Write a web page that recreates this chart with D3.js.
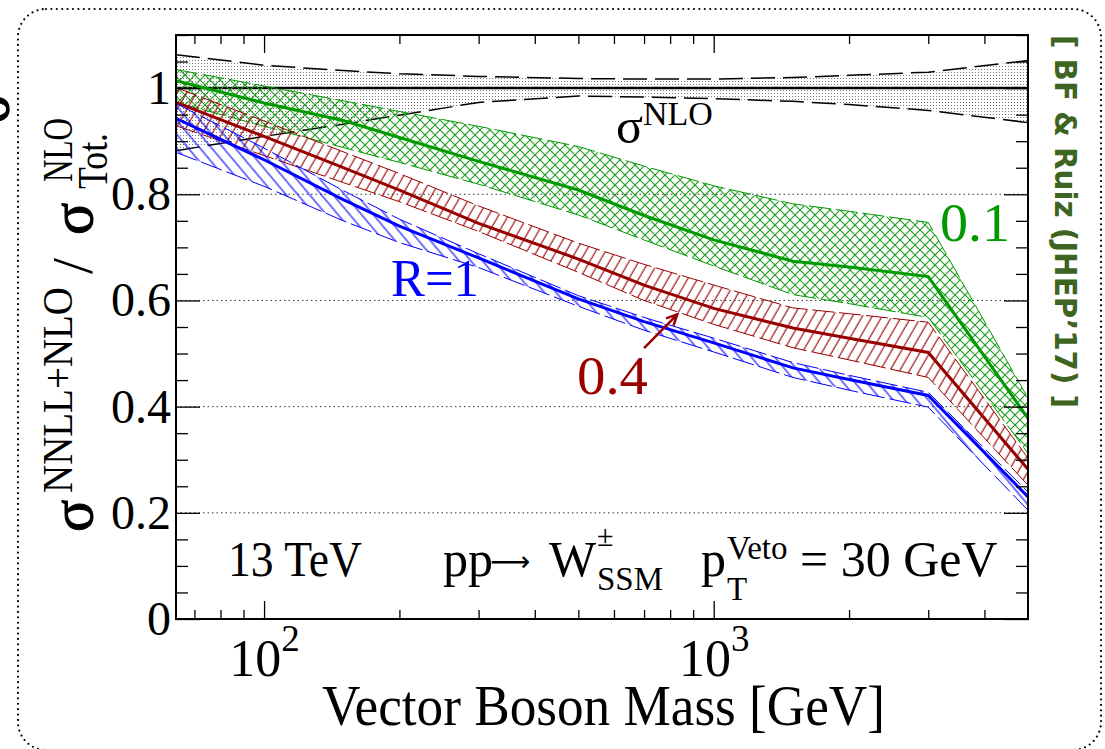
<!DOCTYPE html>
<html>
<head>
<meta charset="utf-8">
<script src="https://cdn.jsdelivr.net/npm/d3@7"></script>
<style>
  body { margin: 0; background: #fff; }
  svg { display: block; }
  text { font-family: "Liberation Serif", "Times New Roman", serif; }
</style>
</head>
<body>
<div id="chart"></div>
<script>
const masses = [63.7, 100, 150, 200, 300, 500, 700, 1000, 1500, 2000, 3000, 5000]

// sigma^NLO band (ratio to itself)
const nloMid = [1, 1, 1, 1, 1, 1, 1, 1, 1, 1, 1, 1]
const nloUp  = [1.063, 1.043, 1.033, 1.027, 1.022, 1.018, 1.017, 1.017, 1.020, 1.024, 1.030, 1.052]
const nloDn  = [0.882, 0.909, 0.932, 0.949, 0.973, 0.985, 0.983, 0.980, 0.975, 0.969, 0.958, 0.935]

// R = 0.1
const r01Mid = [1.014, 0.972, 0.939, 0.907, 0.862, 0.808, 0.760, 0.714, 0.674, 0.663, 0.645, 0.378]
const r01Up  = [1.035, 1.004, 0.976, 0.956, 0.928, 0.890, 0.853, 0.816, 0.782, 0.768, 0.747, 0.416]
const r01Dn  = [0.973, 0.928, 0.888, 0.860, 0.819, 0.761, 0.714, 0.665, 0.611, 0.594, 0.568, 0.312]

// R = 0.4
const r04Mid = [0.973, 0.909, 0.850, 0.808, 0.745, 0.678, 0.629, 0.585, 0.548, 0.529, 0.502, 0.282]
const r04Up  = [1.001, 0.938, 0.880, 0.839, 0.778, 0.708, 0.668, 0.629, 0.586, 0.575, 0.559, 0.303]
const r04Dn  = [0.929, 0.873, 0.822, 0.786, 0.730, 0.653, 0.600, 0.555, 0.511, 0.488, 0.455, 0.252]

// R = 1
const r1Mid = [0.943, 0.865, 0.790, 0.740, 0.680, 0.603, 0.560, 0.520, 0.473, 0.451, 0.421, 0.230]
const r1Up  = [0.971, 0.887, 0.807, 0.753, 0.688, 0.609, 0.568, 0.529, 0.483, 0.459, 0.427, 0.239]
const r1Dn  = [0.879, 0.815, 0.750, 0.709, 0.662, 0.589, 0.544, 0.503, 0.455, 0.431, 0.399, 0.205]

const yMajor = [0, 0.2, 0.4, 0.6, 0.8, 1]
const xMajor = [100, 1000]
const xMinor = [70, 80, 90, 200, 300, 400, 500, 600, 700, 800, 900, 2000, 3000, 4000]

const green = "#009900", red = "#990000", blue = "#0000ff"

const width = 1105, height = 749
const margin = {top: 35, right: 77, bottom: 130, left: 176}

const x = d3.scaleLog()
    .domain([63.7, 5000])
    .range([margin.left, width - margin.right])

const y = d3.scaleLinear()
    .domain([0, 1.1])
    .range([height - margin.bottom, margin.top])

const svg = d3.select("#chart").append("svg")
    .attr("width", width)
    .attr("height", height)

const defs = svg.append("defs")

defs.append("clipPath").attr("id", "clip")
  .append("rect")
    .attr("x", margin.left).attr("y", margin.top)
    .attr("width", width - margin.left - margin.right)
    .attr("height", height - margin.top - margin.bottom)

// fill styles
const dots = defs.append("pattern").attr("id", "dots")
    .attr("patternUnits", "userSpaceOnUse").attr("width", 3).attr("height", 3)
dots.append("rect").attr("width", 1).attr("height", 1).attr("fill", "#777")

defs.append("pattern").attr("id", "cross")
    .attr("patternUnits", "userSpaceOnUse").attr("width", 10).attr("height", 10)
  .append("path")
    .attr("d", "M0,0L10,10M10,0L0,10")
    .attr("stroke", "#1c9c1c").attr("stroke-width", 1.1)

defs.append("pattern").attr("id", "slashRed")
    .attr("patternUnits", "userSpaceOnUse").attr("width", 8.5).attr("height", 10)
    .attr("patternTransform", "rotate(30)")
  .append("path")
    .attr("d", "M4,0V10")
    .attr("stroke", red).attr("stroke-width", 1.1)

defs.append("pattern").attr("id", "slashBlue")
    .attr("patternUnits", "userSpaceOnUse").attr("width", 9).attr("height", 10)
    .attr("patternTransform", "rotate(-40)")
  .append("path")
    .attr("d", "M4,0V10")
    .attr("stroke", blue).attr("stroke-width", 1.1)

// dotted rounded frame round the whole figure
svg.append("rect")
    .attr("x", 18).attr("y", 9)
    .attr("width", 1083).attr("height", 741)
    .attr("rx", 28)
    .attr("fill", "none")
    .attr("stroke", "#000")
    .attr("stroke-width", 2.2)
    .attr("stroke-linecap", "round")
    .attr("stroke-dasharray", "0,5.4")

// grid
svg.append("g")
  .selectAll("line")
  .data(yMajor.filter(d => d > 0))
  .join("line")
    .attr("x1", margin.left).attr("x2", width - margin.right)
    .attr("y1", d => y(d)).attr("y2", d => y(d))
    .attr("stroke", "#333")
    .attr("stroke-width", 1)
    .attr("stroke-dasharray", "1.5,3")

const bands = [
  {mid: nloMid, up: nloUp, dn: nloDn, fill: "url(#dots)", color: "#000", edge: "#000", edgeDash: "24,8", edgeW: 1.5, lineW: 2.5},
  {mid: r01Mid, up: r01Up, dn: r01Dn, fill: "url(#cross)", color: green, edge: green, edgeDash: "22,5", edgeW: 1, lineW: 3},
  {mid: r04Mid, up: r04Up, dn: r04Dn, fill: "url(#slashRed)", color: red, edge: red, edgeDash: "22,5", edgeW: 1, lineW: 3},
  {mid: r1Mid, up: r1Up, dn: r1Dn, fill: "url(#slashBlue)", color: blue, edge: blue, edgeDash: "22,5", edgeW: 1, lineW: 3}
]

const plot = svg.append("g").attr("clip-path", "url(#clip)")

const area = d3.area()
    .x(d => x(d.m))
    .y0(d => y(d.dn))
    .y1(d => y(d.up))

const line = key => d3.line()
    .x(d => x(d.m))
    .y(d => y(d[key]))

bands.forEach(b => {
  const rows = masses.map((m, i) => ({m, mid: b.mid[i], up: b.up[i], dn: b.dn[i]}))
  const g = plot.append("g")
  g.append("path")
      .attr("d", area(rows))
      .attr("fill", b.fill)
  for (const key of ["up", "dn"]) {
    g.append("path")
        .attr("d", line(key)(rows))
        .attr("fill", "none")
        .attr("stroke", b.edge)
        .attr("stroke-width", b.edgeW)
        .attr("stroke-dasharray", b.edgeDash)
  }
  g.append("path")
      .attr("d", line("mid")(rows))
      .attr("fill", "none")
      .attr("stroke", b.color)
      .attr("stroke-width", b.lineW)
})

// axes, ticks on the inside on all four sides
const yMinor = d3.range(0, 1.1001, 0.05).filter(d => !yMajor.some(v => Math.abs(v - d) < 1e-6))

const axes = svg.append("g")

const tickAxis = (axis, tx, ty) => axes.append("g")
    .attr("transform", `translate(${tx},${ty})`)
    .call(axis.tickSizeOuter(0))
    .call(g => g.select(".domain").remove())
    .call(g => g.selectAll(".tick line").attr("stroke-width", 1.3))

const yLeft = margin.left, yRight = width - margin.right
const xBottom = height - margin.bottom, xTop = margin.top

tickAxis(d3.axisLeft(y).tickValues(yMajor).tickSize(-24).tickPadding(5).tickFormat(d3.format("~g")), yLeft, 0)
    .call(g => g.selectAll(".tick text").attr("font-family", null).attr("font-size", 48))
tickAxis(d3.axisLeft(y).tickValues(yMinor).tickSize(-12).tickFormat(""), yLeft, 0)
tickAxis(d3.axisRight(y).tickValues(yMajor).tickSize(-24).tickFormat(""), yRight, 0)
tickAxis(d3.axisRight(y).tickValues(yMinor).tickSize(-12).tickFormat(""), yRight, 0)

tickAxis(d3.axisBottom(x).tickValues(xMajor).tickSize(-18).tickPadding(20).tickFormat(""), 0, xBottom)
    .call(g => g.selectAll(".tick text").each(function(d) {
      const t = d3.select(this).attr("font-family", null).attr("font-size", 52)
      t.text("10")
      t.append("tspan").attr("font-size", 37).attr("dy", -25).text(Math.round(Math.log10(d)))
    }))
tickAxis(d3.axisBottom(x).tickValues(xMinor).tickSize(-9).tickFormat(""), 0, xBottom)
tickAxis(d3.axisTop(x).tickValues(xMajor).tickSize(-18).tickFormat(""), 0, xTop)
tickAxis(d3.axisTop(x).tickValues(xMinor).tickSize(-9).tickFormat(""), 0, xTop)

svg.append("rect")
    .attr("x", margin.left).attr("y", margin.top)
    .attr("width", width - margin.left - margin.right)
    .attr("height", height - margin.top - margin.bottom)
    .attr("fill", "none")
    .attr("stroke", "#000")
    .attr("stroke-width", 2)

// text helper
function label(parent, s, px, py, size, opts = {}) {
  const t = parent.append("text")
      .attr("x", px).attr("y", py)
      .attr("font-size", size)
      .attr("fill", opts.fill || "#000")
      .text(s)
  if (opts.len) t.attr("textLength", opts.len).attr("lengthAdjust", "spacingAndGlyphs")
  if (opts.weight) t.attr("font-weight", opts.weight)
  if (opts.stroke) t.attr("stroke", opts.fill || "#000").attr("stroke-width", opts.stroke)
  return t
}

// x title
label(svg, "Vector Boson Mass [GeV]", 322, 725, 56, {len: 563})

// y title, rotated
const yt = svg.append("g").attr("transform", "rotate(-90)")
label(yt, "σ", -532, 92, 60, {stroke: 1})
label(yt, "NNLL+NLO", -493, 72, 43, {len: 206})
label(yt, "/", -274, 92, 58, {len: 16})
label(yt, "σ", -235, 92, 60, {stroke: 1})
label(yt, "NLO", -182, 72, 42, {len: 64})
label(yt, "Tot.", -189, 107, 43, {len: 56})

// cut-off glyph at the left border
label(yt, "σ", -123, 8, 54, {stroke: 1.5})

// right-hand credit
svg.append("g")
    .attr("transform", "translate(1055,0) rotate(90)")
  .call(g => label(g, "[ BF & Ruiz (JHEP’17) ]", 35, 0, 31, {len: 373, weight: "bold", fill: "#3d6420"}))
  .select("text").style("font-family", "'DejaVu Sans', sans-serif")

// curve labels
const sig = label(svg, "σ", 616, 143, 50)
sig.append("tspan").attr("dy", -18).attr("font-size", 34).text("NLO")
label(svg, "R=1", 391, 296, 52, {fill: blue, len: 88})
label(svg, "0.1", 940, 241, 54, {fill: green, len: 70})
label(svg, "0.4", 577, 394, 54, {fill: red, len: 71})

// arrow to the 0.4 band
const ax0 = x(700), ay0 = y(0.51), ax1 = x(830), ay1 = y(0.574)
const ang = Math.atan2(ay1 - ay0, ax1 - ax0)
svg.append("path")
    .attr("d", `M${ax0},${ay0}L${ax1},${ay1}` +
      `M${ax1 - 12 * Math.cos(ang - 0.45)},${ay1 - 12 * Math.sin(ang - 0.45)}L${ax1},${ay1}` +
      `L${ax1 - 12 * Math.cos(ang + 0.45)},${ay1 - 12 * Math.sin(ang + 0.45)}`)
    .attr("fill", "none")
    .attr("stroke", red)
    .attr("stroke-width", 2.5)

// process information
label(svg, "13 TeV", 228, 576, 50, {len: 134})

const proc = label(svg, "pp", 443, 576, 50)
proc.append("tspan").attr("x", 490).attr("font-family", "'DejaVu Sans', sans-serif").attr("font-size", 28).attr("dy", -5).text("⟶")
proc.append("tspan").attr("x", 549).attr("dy", 5).text("W")
proc.append("tspan").attr("x", 597).attr("dy", -30).attr("font-size", 30).text("±")
proc.append("tspan").attr("x", 597).attr("dy", 44).attr("font-size", 33).text("SSM")

const veto = label(svg, "p", 701, 576, 50)
veto.append("tspan").attr("x", 727).attr("dy", -17).attr("font-size", 33).text("Veto")
veto.append("tspan").attr("x", 727).attr("dy", 41).attr("font-size", 33).text("T")
veto.append("tspan").attr("x", 800).attr("dy", -24).text("= 30 GeV")
</script>
</body>
</html>
